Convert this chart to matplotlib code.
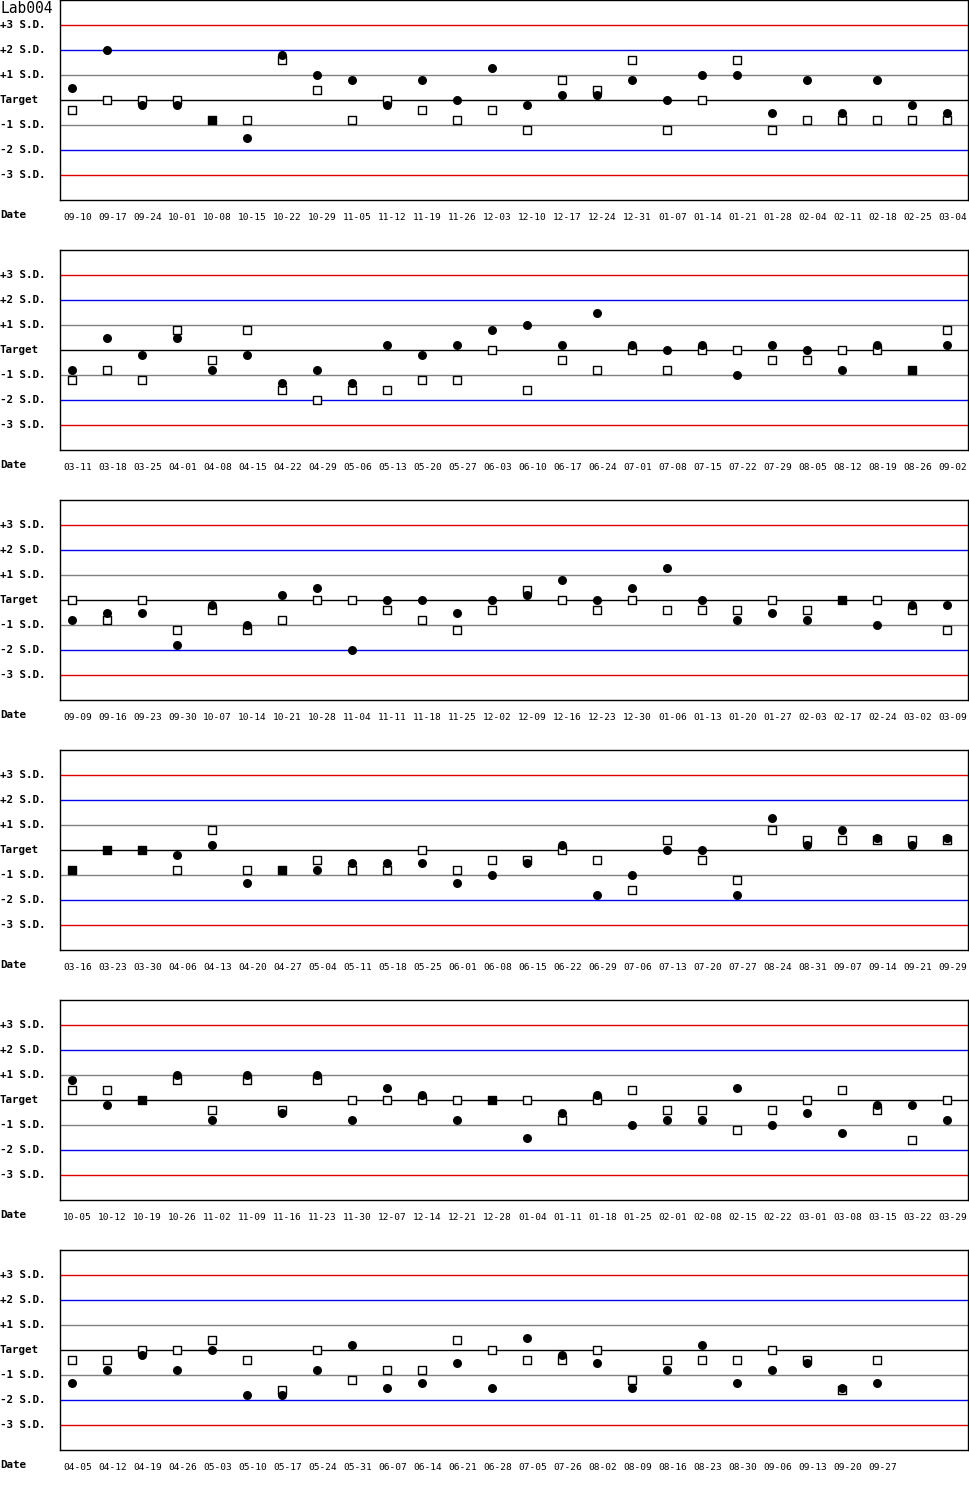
import matplotlib
matplotlib.use('Agg')
import matplotlib.pyplot as plt
import matplotlib.transforms as mtransforms

plt.rcParams['font.family'] = 'DejaVu Sans Mono'

# 데이터: 패널별 날짜, 원(●) 값, 사각형(□) 값 (S.D. 단위)
dates_1 = ['09-10', '09-17', '09-24', '10-01', '10-08', '10-15', '10-22', '10-29', '11-05',
           '11-12', '11-19', '11-26', '12-03', '12-10', '12-17', '12-24', '12-31', '01-07',
           '01-14', '01-21', '01-28', '02-04', '02-11', '02-18', '02-25', '03-04']
circle_1 = [0.5, 2.0, -0.2, -0.2, -0.8, -1.5, 1.8, 1.0, 0.8, -0.2, 0.8, 0.0, 1.3,
            -0.2, 0.2, 0.2, 0.8, 0.0, 1.0, 1.0, -0.5, 0.8, -0.5, 0.8, -0.2, -0.5]
square_1 = [-0.4, 0.0, 0.0, 0.0, -0.8, -0.8, 1.6, 0.4, -0.8, 0.0, -0.4, -0.8, -0.4,
            -1.2, 0.8, 0.4, 1.6, -1.2, 0.0, 1.6, -1.2, -0.8, -0.8, -0.8, -0.8, -0.8]

dates_2 = ['03-11', '03-18', '03-25', '04-01', '04-08', '04-15', '04-22', '04-29', '05-06',
           '05-13', '05-20', '05-27', '06-03', '06-10', '06-17', '06-24', '07-01', '07-08',
           '07-15', '07-22', '07-29', '08-05', '08-12', '08-19', '08-26', '09-02']
circle_2 = [-0.8, 0.5, -0.2, 0.5, -0.8, -0.2, -1.3, -0.8, -1.3, 0.2, -0.2, 0.2, 0.8,
            1.0, 0.2, 1.5, 0.2, 0.0, 0.2, -1.0, 0.2, 0.0, -0.8, 0.2, -0.8, 0.2]
square_2 = [-1.2, -0.8, -1.2, 0.8, -0.4, 0.8, -1.6, -2.0, -1.6, -1.6, -1.2, -1.2, 0.0,
            -1.6, -0.4, -0.8, 0.0, -0.8, 0.0, 0.0, -0.4, -0.4, 0.0, 0.0, -0.8, 0.8]

dates_3 = ['09-09', '09-16', '09-23', '09-30', '10-07', '10-14', '10-21', '10-28', '11-04',
           '11-11', '11-18', '11-25', '12-02', '12-09', '12-16', '12-23', '12-30', '01-06',
           '01-13', '01-20', '01-27', '02-03', '02-17', '02-24', '03-02', '03-09']
circle_3 = [-0.8, -0.5, -0.5, -1.8, -0.2, -1.0, 0.2, 0.5, -2.0, 0.0, 0.0, -0.5, 0.0,
            0.2, 0.8, 0.0, 0.5, 1.3, 0.0, -0.8, -0.5, -0.8, 0.0, -1.0, -0.2, -0.2]
square_3 = [0.0, -0.8, 0.0, -1.2, -0.4, -1.2, -0.8, 0.0, 0.0, -0.4, -0.8, -1.2, -0.4,
            0.4, 0.0, -0.4, 0.0, -0.4, -0.4, -0.4, 0.0, -0.4, 0.0, 0.0, -0.4, -1.2]

dates_4 = ['03-16', '03-23', '03-30', '04-06', '04-13', '04-20', '04-27', '05-04', '05-11',
           '05-18', '05-25', '06-01', '06-08', '06-15', '06-22', '06-29', '07-06', '07-13',
           '07-20', '07-27', '08-24', '08-31', '09-07', '09-14', '09-21', '09-29']
circle_4 = [-0.8, 0.0, 0.0, -0.2, 0.2, -1.3, -0.8, -0.8, -0.5, -0.5, -0.5, -1.3, -1.0,
            -0.5, 0.2, -1.8, -1.0, 0.0, 0.0, -1.8, 1.3, 0.2, 0.8, 0.5, 0.2, 0.5]
square_4 = [-0.8, 0.0, 0.0, -0.8, 0.8, -0.8, -0.8, -0.4, -0.8, -0.8, 0.0, -0.8, -0.4,
            -0.4, 0.0, -0.4, -1.6, 0.4, -0.4, -1.2, 0.8, 0.4, 0.4, 0.4, 0.4, 0.4]

dates_5 = ['10-05', '10-12', '10-19', '10-26', '11-02', '11-09', '11-16', '11-23', '11-30',
           '12-07', '12-14', '12-21', '12-28', '01-04', '01-11', '01-18', '01-25', '02-01',
           '02-08', '02-15', '02-22', '03-01', '03-08', '03-15', '03-22', '03-29']
circle_5 = [0.8, -0.2, 0.0, 1.0, -0.8, 1.0, -0.5, 1.0, -0.8, 0.5, 0.2, -0.8, 0.0,
            -1.5, -0.5, 0.2, -1.0, -0.8, -0.8, 0.5, -1.0, -0.5, -1.3, -0.2, -0.2, -0.8]
square_5 = [0.4, 0.4, 0.0, 0.8, -0.4, 0.8, -0.4, 0.8, 0.0, 0.0, 0.0, 0.0, 0.0,
            0.0, -0.8, 0.0, 0.4, -0.4, -0.4, -1.2, -0.4, 0.0, 0.4, -0.4, -1.6, 0.0]

dates_6 = ['04-05', '04-12', '04-19', '04-26', '05-03', '05-10', '05-17', '05-24', '05-31',
           '06-07', '06-14', '06-21', '06-28', '07-05', '07-26', '08-02', '08-09', '08-16',
           '08-23', '08-30', '09-06', '09-13', '09-20', '09-27']
circle_6 = [-1.3, -0.8, -0.2, -0.8, 0.0, -1.8, -1.8, -0.8, 0.2, -1.5, -1.3, -0.5,
            -1.5, 0.5, -0.2, -0.5, -1.5, -0.8, 0.2, -1.3, -0.8, -0.5, -1.5, -1.3]
square_6 = [-0.4, -0.4, 0.0, 0.0, 0.4, -0.4, -1.6, 0.0, -1.2, -0.8, -0.8, 0.4,
            0.0, -0.4, -0.4, 0.0, -1.2, -0.4, -0.4, -0.4, 0.0, -0.4, -1.6, -0.4]

panels = [(dates_1, circle_1, square_1), (dates_2, circle_2, square_2),
          (dates_3, circle_3, square_3), (dates_4, circle_4, square_4),
          (dates_5, circle_5, square_5), (dates_6, circle_6, square_6)]

sd_levels = [3, 2, 1, 0, -1, -2, -3]
sd_labels = ['+3 S.D.', '+2 S.D.', '+1 S.D.', 'Target', '-1 S.D.', '-2 S.D.', '-3 S.D.']
sd_colors = ['#E00000', '#0000EE', '#808080', '#000000', '#808080', '#0000EE', '#E00000']

# 픽셀 기준 레이아웃
W, H = 970, 1500
ax_left, ax_w, ax_h, step = 60, 908, 200, 250
slot = 35.0
x0 = -12.3 / slot

fig = plt.figure(figsize=(W / 100, H / 100), dpi=100)

for k, (dates, circ, sq) in enumerate(panels):
    top = step * k
    ax = fig.add_axes([ax_left / W, 1 - (top + ax_h) / H, ax_w / W, ax_h / H])
    ax.set_xlim(x0, x0 + ax_w / slot)
    ax.set_ylim(-4, 4)
    ax.set_xticks([])
    ax.set_yticks([])
    for sp in ax.spines.values():
        sp.set_linewidth(1.0)
        sp.set_color('black')

    for lv, lab, col in zip(sd_levels, sd_labels, sd_colors):
        ax.axhline(lv, color=col, lw=1.0, zorder=1)
        ax.text(-ax_left / ax_w, lv, lab, transform=ax.get_yaxis_transform(),
                ha='left', va='center', fontsize=7.8, fontweight='bold')

    xs = list(range(len(dates)))
    faces = ['black' if c == s else 'white' for c, s in zip(circ, sq)]
    ax.scatter(xs, sq, marker='s', s=34, facecolors=faces, edgecolors='black',
               linewidths=1.0, zorder=3)
    ax.scatter(xs, circ, marker='o', s=42, color='black', linewidths=0, zorder=4)

    # 날짜 라벨
    off = mtransforms.ScaledTranslation(5 / 100, 0, fig.dpi_scale_trans)
    tr = mtransforms.blended_transform_factory(ax.transData, ax.transAxes) + off
    for x, d in zip(xs, dates):
        ax.text(x, -17 / ax_h, d, transform=tr, ha='center', va='center', fontsize=6.8)
    ax.text(-ax_left / ax_w, -15 / ax_h, 'Date', transform=ax.transAxes,
            ha='left', va='center', fontsize=7.8, fontweight='bold')

fig.text(0, 1 - 1 / H, 'Lab004', ha='left', va='top', fontsize=10.5)

plt.savefig('out.png', dpi=100)
